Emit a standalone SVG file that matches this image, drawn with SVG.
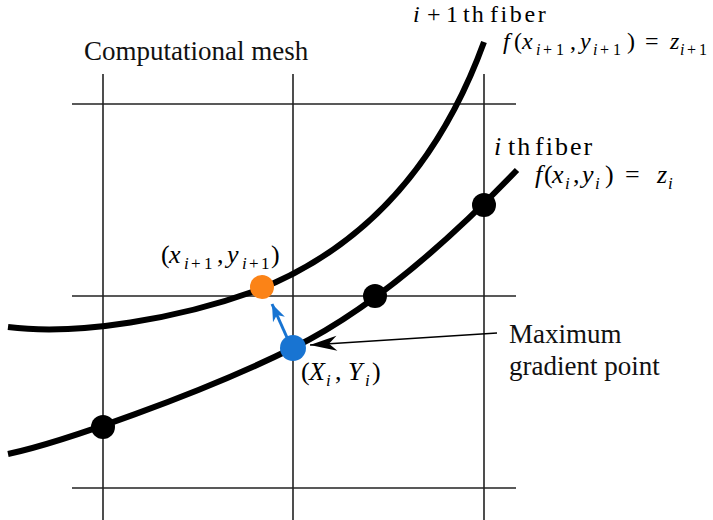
<svg xmlns="http://www.w3.org/2000/svg" width="713" height="520" viewBox="0 0 713 520">
<style>
.grid{stroke:#222;stroke-width:1.6;fill:none}
.fiber{stroke:#000;stroke-width:6;fill:none}
.t{font-family:"Liberation Serif","Times New Roman",serif;font-size:27px;fill:#111}
.m{font-family:"Liberation Serif","Times New Roman",serif;font-size:26px;fill:#000}
.v{font-style:italic}
.s{font-size:17px}
.r{letter-spacing:2px}
</style>
<defs>
<marker id="hk" markerUnits="userSpaceOnUse" orient="auto" markerWidth="30" markerHeight="20" refX="0" refY="0" viewBox="-28 -10 30 20" overflow="visible">
<path d="M0,0 L-27,-7.5 L-19,0 L-27,7.5 Z" fill="#000"/>
</marker>
<marker id="hb" markerUnits="userSpaceOnUse" orient="auto" markerWidth="20" markerHeight="16" refX="0" refY="0" viewBox="-18 -8 20 16" overflow="visible">
<path d="M0,0 L-17,-6.5 L-12,0 L-17,6.5 Z" fill="#1874d2"/>
</marker>
</defs>
<g id="mesh">
<line class="grid" x1="103" y1="74" x2="103" y2="520"/>
<line class="grid" x1="293" y1="74" x2="293" y2="520"/>
<line class="grid" x1="484" y1="74" x2="484" y2="520"/>
<line class="grid" x1="72" y1="104" x2="516" y2="104"/>
<line class="grid" x1="72" y1="296" x2="516" y2="296"/>
<line class="grid" x1="72" y1="488" x2="516" y2="488"/>
</g>
<g id="fibers">
<path id="fiber-i1" class="fiber" d="M8,327 C80,336 180,318 255,291 C340,258 430,190 484,42"/>
<path id="fiber-i" class="fiber" d="M8,454 C60,443 200,394 293,348 C370,310 450,240 517,170"/>
</g>
<g id="connectors">
<line x1="497" y1="333" x2="310" y2="345" stroke="#000" stroke-width="1.6" marker-end="url(#hk)"/>
<line x1="289" y1="342" x2="272" y2="304" stroke="#1874d2" stroke-width="3" marker-end="url(#hb)"/>
</g>
<g id="points">
<circle cx="103" cy="427" r="12" fill="#000"/>
<circle cx="375" cy="296" r="12" fill="#000"/>
<circle cx="484" cy="205" r="12" fill="#000"/>
<circle id="max-grad" cx="293" cy="348" r="13" fill="#1874d2"/>
<circle id="next-pt" cx="262" cy="287" r="12" fill="#fb8317"/>
</g>
<g id="labels">
<text class="t" x="84" y="60">Computational mesh</text>
<text class="t" x="509" y="343">Maximum</text>
<text class="t" x="509" y="375">gradient point</text>
<text class="m" style="font-size:24px"><tspan class="v" x="413" y="22">i</tspan><tspan x="427" y="22">+</tspan><tspan x="446" y="22">1</tspan><tspan class="r" x="463" y="22">th</tspan><tspan class="r" x="490" y="22" style="letter-spacing:2.6px">fiber</tspan></text>
<text class="m" style="font-size:24px"><tspan class="v" x="503" y="49">f</tspan><tspan x="514" y="49">(</tspan><tspan class="v" x="522" y="49">x</tspan><tspan class="v s" x="536" y="55" style="font-size:16px">i</tspan><tspan class="s" x="543" y="55" style="font-size:16px">+</tspan><tspan class="s" x="556" y="55" style="font-size:16px">1</tspan><tspan x="570" y="49">,</tspan><tspan class="v" x="580" y="49">y</tspan><tspan class="v s" x="593" y="55" style="font-size:16px">i</tspan><tspan class="s" x="600" y="55" style="font-size:16px">+</tspan><tspan class="s" x="613" y="55" style="font-size:16px">1</tspan><tspan x="627" y="49">)</tspan><tspan x="645" y="49">=</tspan><tspan class="v" x="670" y="49">z</tspan><tspan class="v s" x="680" y="55" style="font-size:16px">i</tspan><tspan class="s" x="687" y="55" style="font-size:16px">+</tspan><tspan class="s" x="699" y="55" style="font-size:16px">1</tspan></text>
<text class="m"><tspan class="v" x="494" y="155">i</tspan><tspan class="r" x="508" y="155">th</tspan><tspan class="r" x="535" y="155">fiber</tspan></text>
<text class="m"><tspan class="v" x="535" y="183">f</tspan><tspan x="544" y="183">(</tspan><tspan class="v" x="552" y="183">x</tspan><tspan class="v s" x="565" y="189">i</tspan><tspan x="573" y="183">,</tspan><tspan class="v" x="582" y="183">y</tspan><tspan class="v s" x="595" y="189">i</tspan><tspan x="605" y="183">)</tspan><tspan x="625" y="183">=</tspan><tspan class="v" x="657" y="183">z</tspan><tspan class="v s" x="668" y="189">i</tspan></text>
<text class="m"><tspan x="161" y="263">(</tspan><tspan class="v" x="169" y="263">x</tspan><tspan class="v s" x="184" y="269">i</tspan><tspan class="s" x="191" y="269">+</tspan><tspan class="s" x="204" y="269">1</tspan><tspan x="217" y="263">,</tspan><tspan class="v" x="227" y="263">y</tspan><tspan class="v s" x="242" y="269">i</tspan><tspan class="s" x="249" y="269">+</tspan><tspan class="s" x="261" y="269">1</tspan><tspan x="271" y="263">)</tspan></text>
<text class="m"><tspan x="301" y="380">(</tspan><tspan class="v" x="309" y="380">X</tspan><tspan class="v s" x="326" y="386">i</tspan><tspan x="335" y="380">,</tspan><tspan class="v" x="348" y="380">Y</tspan><tspan class="v s" x="365" y="386">i</tspan><tspan x="372" y="380">)</tspan></text>
</g>
</svg>
